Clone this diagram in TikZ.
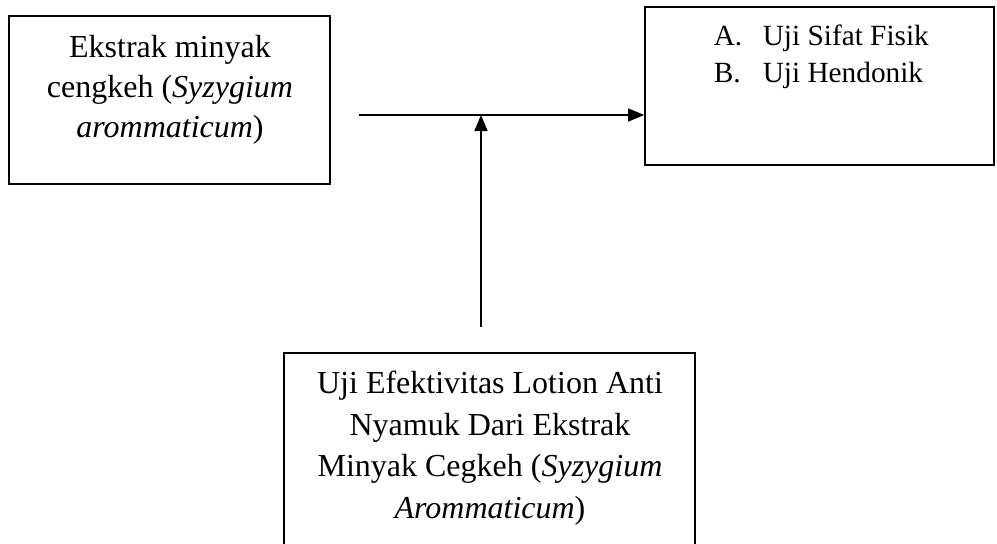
\documentclass[tikz,border=0pt]{standalone}
\usepackage{fontspec}
\setmainfont{Liberation Serif}
\usetikzlibrary{arrows.meta}

\tikzset{
  kotak/.style={draw, inner sep=0pt},
  teks/.style={font=\fontsize{32}{40}\selectfont, align=center, inner sep=0pt},
  daftar/.style={font=\fontsize{29.3}{37}\selectfont, inner sep=0pt, anchor=base west}
}

\begin{document}
\begin{tikzpicture}[x=1pt, y=-1pt, >={Triangle[length=16pt,width=13pt]}, line width=1.6pt]
    \clip (0,0) rectangle (997,544);

    % kotak kiri, kanan dan bawah
    \node[kotak, minimum width=321pt, minimum height=168pt] (ekstrak) at (169.5,100) {};
    \node[kotak, minimum width=349pt, minimum height=158pt] (uji) at (819.5,86) {};
    \node[kotak, minimum width=411pt, minimum height=250pt] (lotion) at (489.5,478) {};

    \node[teks, anchor=base] (ekstrakteks) at (170,137.5)
        {Ekstrak minyak\\ cengkeh (\textit{Syzygium}\\ \textit{arommaticum})};
    \node[daftar] (hurufa) at (713,45) {A.};
    \node[daftar] (hurufb) at (713,82) {B.};
    \node[daftar] (ujia) at (762,45) {Uji Sifat Fisik};
    \node[daftar] (ujib) at (762,82) {Uji Hendonik};
    \node[teks, anchor=base, font=\fontsize{32}{41.5}\selectfont] (lotionteks) at (490,518)
        {Uji Efektivitas Lotion Anti\\ Nyamuk Dari Ekstrak\\ Minyak Cegkeh (\textit{Syzygium}\\ \textit{Arommaticum})};

    % panah
    \coordinate (awal) at (359,115);
    \coordinate (pangkal) at (481,327);
    \draw[->] (awal) -- (awal -| uji.west);
    \draw[->] (pangkal) -- (pangkal |- awal);
\end{tikzpicture}
\end{document}
